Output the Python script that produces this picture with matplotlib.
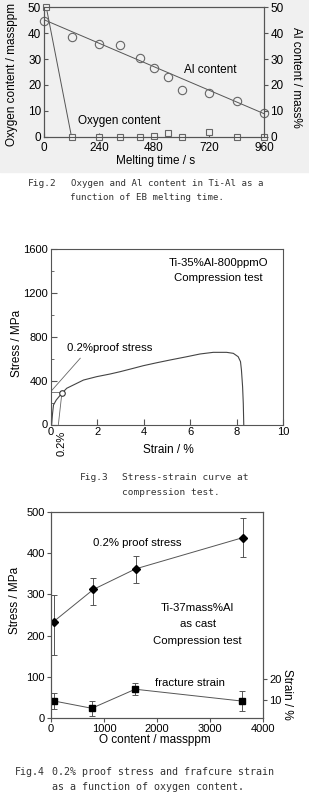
import matplotlib
matplotlib.use('Agg')
import matplotlib.pyplot as plt
import matplotlib.patches as mpatches
from matplotlib.ticker import MultipleLocator

plt.rcParams['font.family'] = ['Liberation Sans', 'DejaVu Sans']

# ---------------- Fig.2 data ----------------
melt_time = [0, 120, 240, 330, 420, 480, 540, 600, 720, 840, 960]
al_content = [44.6, 38.5, 35.9, 35.6, 30.3, 26.5, 22.9, 17.9, 17.0, 13.9, 9.3]
al_fit_time = [0, 960]
al_fit_value = [45.2, 8.9]
oxy_time = [10, 120, 240, 330, 420, 480, 540, 600, 720, 840, 960]
oxy_content = [50, 0, 0, 0, 0, 0.3, 1.3, 0, 1.9, 0, 0]
fig2_xticks = [0, 240, 480, 720, 960]
fig2_yticks = [0, 10, 20, 30, 40, 50]

# ---------------- Fig.3 data ----------------
strain = [0.04, 0.08, 0.12, 0.24, 0.38, 0.48, 0.69, 1.41, 1.98, 2.55, 2.98, 3.55,
          3.98, 4.56, 5.13, 5.85, 6.42, 6.99, 7.56, 7.85, 8.06, 8.16, 8.20, 8.25,
          8.28, 8.30]
stress = [0, 101, 178, 224, 260, 285, 331, 406, 437, 461, 482, 513,
          537, 564, 589, 619, 644, 659, 659, 650, 619, 574, 498, 345,
          190, 0]
offset_strain = [0.33, 0.48]
offset_stress = [0, 285]
proof_strain = [0, 0.48]
proof_stress_level = [300, 300]
proof_point_strain = [0.48]
proof_point_stress = [288]
pointer_strain = [1.27, 0.0]
pointer_stress = [605, 300]
fig3_xticks = [0, 2, 4, 6, 8, 10]
fig3_yticks = [0, 400, 800, 1200, 1600]

# ---------------- Fig.4 data ----------------
o_content = [50, 800, 1600, 3630]
proof_stress = [234, 312, 362, 438]
stress_err_low = [81, 38, 35, 48]
stress_err_high = [65, 29, 30, 48]
o_content_strain = [60, 770, 1590, 3600]
fracture_strain = [9.5, 6.0, 15.2, 9.5]
strain_err = [4.0, 3.7, 2.8, 5.0]
fig4_xticks = [0, 1000, 2000, 3000, 4000]
fig4_yticks = [0, 100, 200, 300, 400, 500]
fig4_rticks = [10, 20]

W, H = 309, 802
fig = plt.figure(figsize=(W / 100, H / 100), dpi=100)


def add_ax(l, r, t, b):
    return fig.add_axes([l / W, 1 - b / H, (r - l) / W, (b - t) / H])


def ftext(x, y, s, **kw):
    kw.setdefault('ha', 'center')
    kw.setdefault('va', 'center')
    fig.text(x / W, 1 - y / H, s, **kw)


# light grey scanned background for Fig.2
fig.patches.append(mpatches.Rectangle((0, 1 - 172 / H), 1, 172 / H,
                                      transform=fig.transFigure,
                                      color='#f0f0f0', zorder=-10))

spine_c = '#555555'
line_c = '#555555'

# ================= Fig.2 =================
ax2 = add_ax(44, 264, 7.3, 136.7)
ax2.set_facecolor('#f0f0f0')
ax2.plot(al_fit_time, al_fit_value, color=line_c, lw=0.7, zorder=2)
ax2.plot(melt_time, al_content, 'o', ms=6, mfc='none', mec='#666666', mew=0.8,
         zorder=3, clip_on=False)
ax2.plot(oxy_time[:2], oxy_content[:2], color=line_c, lw=0.7, zorder=2)
ax2.plot(oxy_time, oxy_content, 's', ms=5, mfc='#f0f0f0', mec='#666666', mew=0.8,
         zorder=3, clip_on=False)
ax2.set_xlim(0, 960)
ax2.set_ylim(0, 50)
ax2.set_xticks(fig2_xticks)
ax2.set_yticks(fig2_yticks)
ax2.tick_params(axis='y', direction='in', length=3, labelsize=8.5, pad=2,
                color=spine_c)
ax2.tick_params(axis='x', direction='in', length=3, labelsize=8.5, pad=4,
                color=spine_c)
ax2r = ax2.twinx()
ax2r.set_ylim(0, 50)
ax2r.set_yticks(fig2_yticks)
ax2r.tick_params(direction='out', length=3, labelsize=8.5, pad=1.5, color=spine_c)
for a in (ax2, ax2r):
    for s in a.spines.values():
        s.set_color(spine_c)
        s.set_linewidth(0.8)
ax2.text(725, 25.6, 'Al content', fontsize=8.5, ha='center', va='center')
ax2.text(327, 6.2, 'Oxygen content', fontsize=8.5, ha='center', va='center')
ftext(12.5, 74, 'Oxygen content / massppm', rotation=90, fontsize=8.5)
ftext(296, 77, 'Al content / mass%', rotation=-90, fontsize=8.5)
ftext(156, 161, 'Melting time / s', fontsize=8.5)

cap = dict(family='DejaVu Sans Mono', color='#333333', ha='left', va='center')
ftext(28, 183, 'Fig.2', fontsize=6.8, **cap)
ftext(71, 183, 'Oxygen and Al content in Ti-Al as a', fontsize=6.6, **cap)
ftext(70, 198, 'function of EB melting time.', fontsize=6.6, **cap)

# ================= Fig.3 =================
ax3 = add_ax(50.7, 283.3, 249.3, 424.5)
ax3.plot(strain, stress, color='#444444', lw=0.8)
ax3.plot(offset_strain, offset_stress, color='#666666', lw=0.6)
ax3.plot(proof_strain, proof_stress_level, color='#666666', lw=0.6)
ax3.plot(pointer_strain, pointer_stress, color='#666666', lw=0.6)
ax3.plot(proof_point_strain, proof_point_stress, 'o', ms=4, mfc='white',
         mec='#333333', mew=0.8)
ax3.set_xlim(0, 10)
ax3.set_ylim(0, 1600)
ax3.set_xticks(fig3_xticks)
ax3.set_yticks(fig3_yticks)
ax3.yaxis.set_minor_locator(MultipleLocator(200))
ax3.tick_params(which='major', direction='in', length=4, labelsize=8, pad=2,
                color=spine_c)
ax3.tick_params(which='minor', direction='in', length=2.5, color=spine_c)
for s in ax3.spines.values():
    s.set_color(spine_c)
    s.set_linewidth(0.8)
ax3.text(7.2, 1475, 'Ti-35%Al-800ppmO', fontsize=8.2, ha='center', va='center')
ax3.text(7.2, 1338, 'Compression test', fontsize=8.2, ha='center', va='center')
ax3.text(2.55, 696, '0.2%proof stress', fontsize=8.2, ha='center', va='center')
ftext(61.7, 443, '0.2%', rotation=90, fontsize=8)
ftext(17, 343, 'Stress / MPa', rotation=90, fontsize=8.5)
ftext(168, 450, 'Strain / %', fontsize=8.5)

ftext(80, 477, 'Fig.3', fontsize=6.8, **cap)
ftext(122, 477, 'Stress-strain curve at', fontsize=6.8, **cap)
ftext(122, 493, 'compression test.', fontsize=6.8, **cap)

# ================= Fig.4 =================
ax4 = add_ax(51, 262.7, 512, 718)
ax4.plot(o_content, proof_stress, color=line_c, lw=0.7)
ax4.errorbar(o_content, proof_stress, yerr=[stress_err_low, stress_err_high],
             fmt='D', color='black', ms=4.5, ecolor='#555555',
             elinewidth=0.7, capsize=2.5, capthick=0.7, mfc='black', mec='black')
ax4.set_xlim(0, 4000)
ax4.set_ylim(0, 500)
ax4.set_xticks(fig4_xticks)
ax4.set_yticks(fig4_yticks)
ax4.tick_params(direction='out', length=3, labelsize=8, pad=1.5, color=spine_c)
ax4r = ax4.twinx()
ax4r.plot(o_content_strain, fracture_strain, color=line_c, lw=0.7)
ax4r.errorbar(o_content_strain, fracture_strain, yerr=strain_err, fmt='s',
              color='black', ms=4, ecolor='#555555', elinewidth=0.7,
              capsize=2.5, capthick=0.7, mfc='black', mec='black')
ax4r.set_ylim(1.3, 100.8)
ax4r.set_yticks(fig4_rticks)
ax4r.tick_params(direction='out', length=3, labelsize=8, pad=1.5, color=spine_c)
for a in (ax4, ax4r):
    for s in a.spines.values():
        s.set_color(spine_c)
        s.set_linewidth(0.8)
ax4.text(1634, 425, '0.2% proof stress', fontsize=8.2, ha='center', va='center')
ax4.text(2770, 268, 'Ti-37mass%Al', fontsize=8.2, ha='center', va='center')
ax4.text(2770, 229, 'as cast', fontsize=8.2, ha='center', va='center')
ax4.text(2770, 188, 'Compression test', fontsize=8.2, ha='center', va='center')
ax4.text(2626, 86, 'fracture strain', fontsize=8.2, ha='center', va='center')
ftext(15, 600, 'Stress / MPa', rotation=90, fontsize=8.5)
ftext(155, 740, 'O content / massppm', fontsize=8.5)
ftext(287, 694, 'Strain / %', rotation=-90, fontsize=8.5)

ftext(15, 772, 'Fig.4', fontsize=7.2, **cap)
ftext(52, 772, '0.2% proof stress and frafcure strain', fontsize=7.2, **cap)
ftext(52, 787, 'as a function of oxygen content.', fontsize=7.2, **cap)

fig.savefig('out.png', dpi=100)
